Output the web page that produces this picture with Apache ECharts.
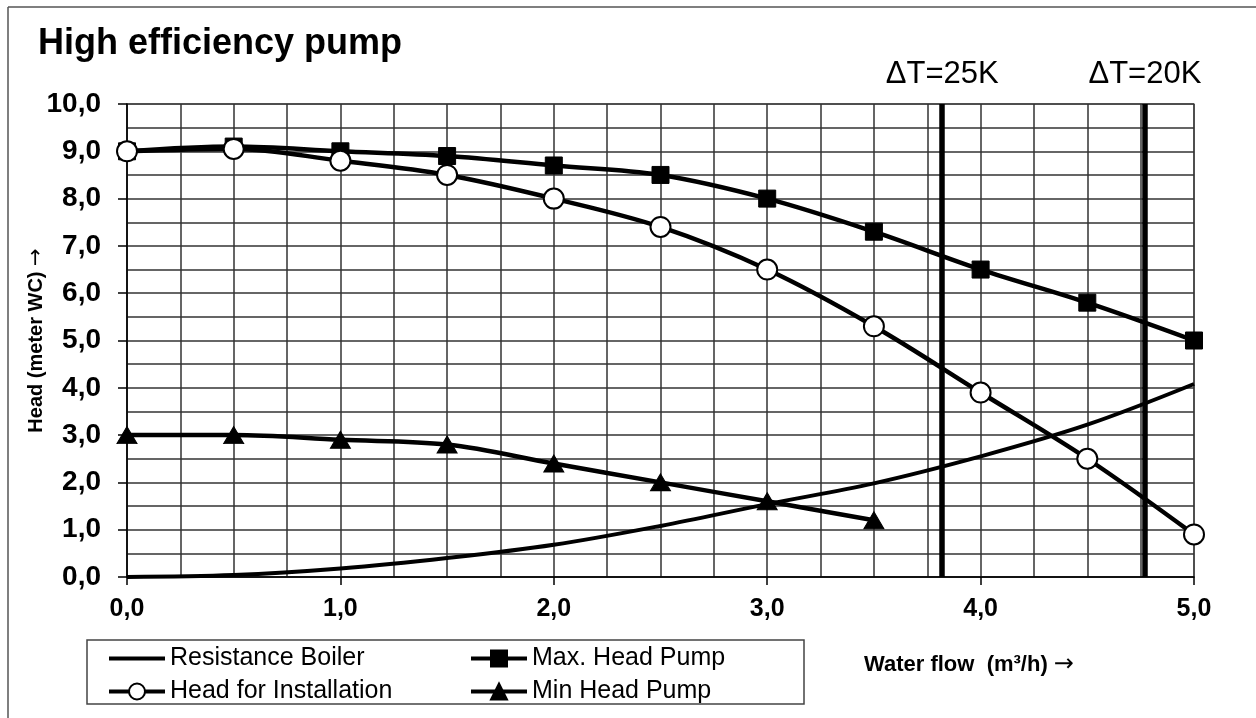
<!DOCTYPE html>
<html>
<head>
<meta charset="utf-8">
<script src="https://cdn.jsdelivr.net/npm/echarts@6/dist/echarts.min.js"></script>
<style>
  html, body { margin: 0; padding: 0; background: #fff; }
  #chart { width: 1256px; height: 718px; }
</style>
</head>
<body>
<div id="chart"></div>
<script>
// ---- data ----
const flow = [0.0, 0.5, 1.0, 1.5, 2.0, 2.5, 3.0, 3.5, 4.0, 4.5, 5.0];
const resistanceBoiler = [0.0, 0.04, 0.18, 0.4, 0.68, 1.08, 1.54, 1.98, 2.55, 3.22, 4.08];
const maxHeadPump = [9.0, 9.1, 9.0, 8.9, 8.7, 8.5, 8.0, 7.3, 6.5, 5.8, 5.0];
const headForInstallation = [9.0, 9.05, 8.8, 8.5, 8.0, 7.4, 6.5, 5.3, 3.9, 2.5, 0.9];
const minHeadFlow = [0.0, 0.5, 1.0, 1.5, 2.0, 2.5, 3.0, 3.5];
const minHeadPump = [3.0, 3.0, 2.9, 2.8, 2.4, 2.0, 1.6, 1.2];
const deltaTFlow = [3.82, 4.77];
const deltaTLabels = ['ΔT=25K', 'ΔT=20K'];
const seriesNames = ['Resistance Boiler', 'Max. Head Pump', 'Head for Installation', 'Min Head Pump'];
const titleText = 'High efficiency pump';
const yAxisNameText = 'Head (meter WC) ';
const xAxisNameText = 'Water flow  (m\u00b3/h) ';
const arrow = '\u2192';

const pairs = (xs, ys) => xs.map((x, i) => [x, ys[i]]);
const fmt = v => v.toFixed(1).replace('.', ',');
const FONT = '"Liberation Sans", Arial, sans-serif';
const ARROWFONT = '"DejaVu Sans", sans-serif';

const chart = echarts.init(document.getElementById('chart'), null, { renderer: 'canvas' });

const lineBase = {
  type: 'line',
  smooth: 0.35,
  lineStyle: { color: '#000', width: 4.5 },
  emphasis: { disabled: true },
  animation: false
};

const legendCommon = {
  orient: 'vertical', top: 641,
  itemWidth: 56, itemHeight: 20, itemGap: 8,
  textStyle: { fontSize: 25, color: '#000', fontFamily: FONT },
  lineStyle: { width: 4, color: '#000' },
  selectedMode: false
};

chart.setOption({
  backgroundColor: '#fff',
  animation: false,
  textStyle: { fontFamily: FONT, color: '#000' },
  title: {
    text: titleText,
    left: 33, top: 21,
    textStyle: { fontFamily: FONT, fontSize: 36, fontWeight: 'bold', color: '#000' }
  },
  grid: {
    left: 127, right: 62, top: 104, bottom: 141,
    show: true, borderColor: '#888', borderWidth: 1.5, backgroundColor: 'transparent'
  },
  xAxis: {
    type: 'value', min: 0, max: 5, interval: 1,
    axisLine: { show: true, lineStyle: { color: '#000', width: 1.5 } },
    axisTick: { show: true, length: 8, lineStyle: { color: '#000', width: 1.5 } },
    axisLabel: { margin: 20, formatter: fmt, fontSize: 25, fontWeight: 'bold', color: '#000', fontFamily: FONT },
    splitLine: { show: true, lineStyle: { color: '#333', width: 1.5 } },
    minorTick: { show: false, splitNumber: 4 },
    minorSplitLine: { show: true, lineStyle: { color: '#333', width: 1.5 } }
  },
  yAxis: {
    type: 'value', min: 0, max: 10, interval: 1,
    name: '{t|' + yAxisNameText + '}{a|' + arrow + '}',
    nameLocation: 'middle', nameGap: 80, nameRotate: 90, nameMoveOverlap: false,
    nameTextStyle: {
      rich: {
        t: { fontSize: 20, fontWeight: 'bold', color: '#000', fontFamily: FONT },
        a: { fontSize: 21, color: '#000', fontFamily: ARROWFONT }
      }
    },
    axisLine: { show: true, lineStyle: { color: '#000', width: 1.5 } },
    axisTick: { show: true, length: 9, lineStyle: { color: '#000', width: 1.5 } },
    axisLabel: { margin: 26, formatter: fmt, fontSize: 28, fontWeight: 'bold', color: '#000', fontFamily: FONT },
    splitLine: { show: true, lineStyle: { color: '#333', width: 1.5 } },
    minorTick: { show: false, splitNumber: 2 },
    minorSplitLine: { show: true, lineStyle: { color: '#333', width: 1.5 } }
  },
  legend: [
    Object.assign({}, legendCommon, {
      left: 102,
      data: [{ name: seriesNames[0], itemStyle: { opacity: 0 } }, seriesNames[2]]
    }),
    Object.assign({}, legendCommon, {
      left: 464,
      data: [seriesNames[1], seriesNames[3]]
    })
  ],
  graphic: [
    { type: 'line', shape: { x1: 8, y1: 7, x2: 1256, y2: 7 }, style: { stroke: '#555', lineWidth: 1.5 }, silent: true },
    { type: 'line', shape: { x1: 8, y1: 7, x2: 8, y2: 718 }, style: { stroke: '#555', lineWidth: 1.5 }, silent: true },
    { type: 'rect', shape: { x: 87, y: 640, width: 717, height: 64 }, style: { fill: 'none', stroke: '#444', lineWidth: 1.5 }, silent: true, z: 5 },
    {
      type: 'text', left: 864, top: 653, silent: true,
      style: {
        text: '{t|' + xAxisNameText + '}{a|' + arrow + '}',
        rich: {
          t: { font: 'bold 22px ' + FONT, fill: '#000' },
          a: { font: '24px ' + ARROWFONT, fill: '#000' }
        }
      }
    }
  ],
  series: [
    Object.assign({}, lineBase, {
      name: seriesNames[0],
      data: pairs(flow, resistanceBoiler),
      symbol: 'none',
      lineStyle: { color: '#000', width: 4 },
      itemStyle: { color: '#000' }
    }),
    Object.assign({}, lineBase, {
      name: seriesNames[1],
      data: pairs(flow, maxHeadPump),
      symbol: 'rect', symbolSize: 17,
      itemStyle: { color: '#000', borderColor: '#000', borderWidth: 1 }
    }),
    Object.assign({}, lineBase, {
      name: seriesNames[2],
      data: pairs(flow, headForInstallation),
      symbol: 'circle', symbolSize: 20,
      itemStyle: { color: '#fff', borderColor: '#000', borderWidth: 2 }
    }),
    Object.assign({}, lineBase, {
      name: seriesNames[3],
      data: pairs(minHeadFlow, minHeadPump),
      symbol: 'triangle', symbolSize: [20, 17],
      itemStyle: { color: '#000', borderColor: '#000', borderWidth: 1 }
    }),
    {
      type: 'line', name: 'deltaT', data: [],
      markLine: {
        silent: true, symbol: ['none', 'none'], animation: false,
        lineStyle: { color: '#000', width: 5.5, type: 'solid' },
        label: { show: true, position: 'end', distance: 14, fontSize: 31, color: '#000', fontFamily: FONT, formatter: p => p.name },
        data: deltaTFlow.map((x, i) => ({ xAxis: x, name: deltaTLabels[i] }))
      }
    }
  ]
});
</script>
</body>
</html>
